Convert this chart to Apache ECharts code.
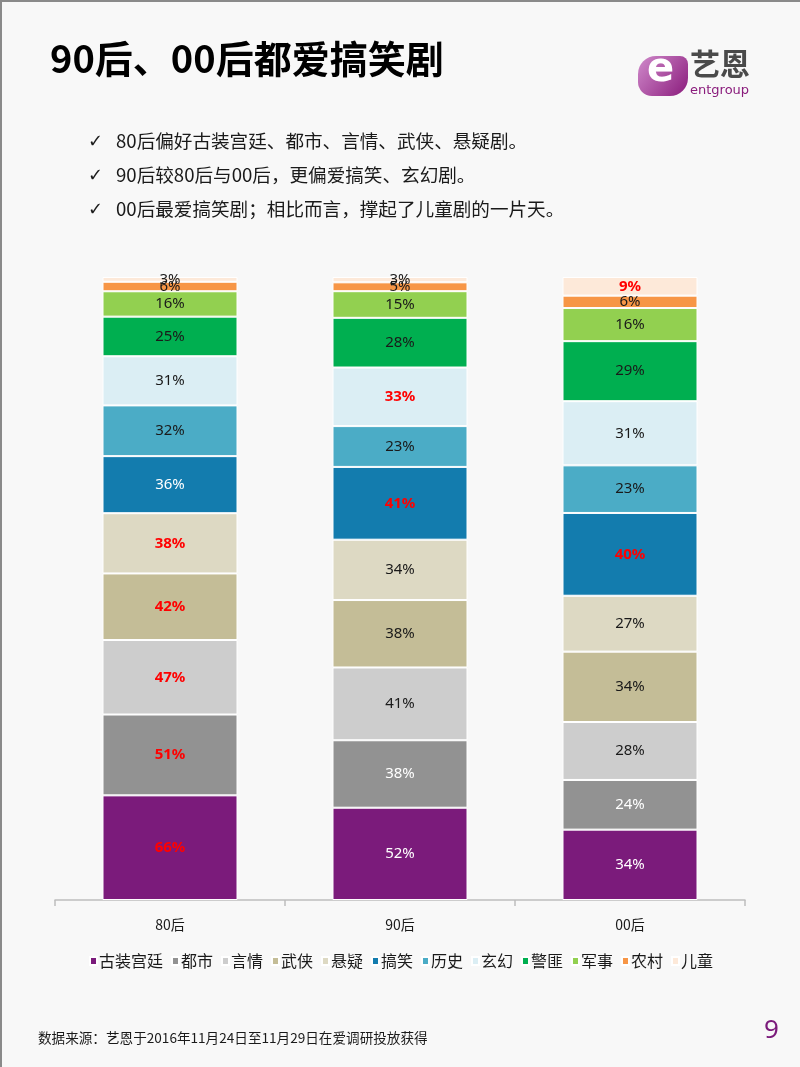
<!DOCTYPE html>
<html><head><meta charset="utf-8">
<script src="https://cdn.jsdelivr.net/npm/echarts@6/dist/echarts.min.js"></script>
<style>
html,body{margin:0;padding:0;}
body{width:800px;height:1067px;background:#f8f8f8;box-sizing:border-box;border-top:2px solid #8a8a8a;border-left:2px solid #8a8a8a;}
#c{width:798px;height:1065px;}
</style></head><body>
<div id="c"></div>
<script>
var categories = ['80后', '90后', '00后'];
var seriesNames = ['古装宫廷','都市','言情','武侠','悬疑','搞笑','历史','玄幻','警匪','军事','农村','儿童'];
var v古装宫廷 = [66, 52, 34];
var v都市 = [51, 38, 24];
var v言情 = [47, 41, 28];
var v武侠 = [42, 38, 34];
var v悬疑 = [38, 34, 27];
var v搞笑 = [36, 41, 40];
var v历史 = [32, 23, 23];
var v玄幻 = [31, 33, 31];
var v警匪 = [25, 28, 29];
var v军事 = [16, 15, 16];
var v农村 = [6, 5, 6];
var v儿童 = [3, 3, 9];
var seriesValues = [v古装宫廷,v都市,v言情,v武侠,v悬疑,v搞笑,v历史,v玄幻,v警匪,v军事,v农村,v儿童];
// highlighted (red) labels: [series index, category index]
var redLabels = [[0,0],[1,0],[2,0],[3,0],[4,0],[7,1],[5,1],[5,2],[11,2]];
var whiteLabelSeries = [0,1,5];

var colors = ['#7B1B7B','#929292','#CDCDCD','#C4BD97','#DDD9C3','#137CAE','#4BACC6','#DBEEF4','#00AF50','#92D050','#F79646','#FDE9D9'];

var sums = categories.map(function(c, j){
  var s = 0; seriesValues.forEach(function(a){ s += a[j]; }); return s;
});
function isRed(i,j){ return redLabels.some(function(p){return p[0]===i && p[1]===j;}); }

var series = seriesNames.map(function(name, i){
  return {
    name: name, type: 'bar', stack: 'all', barWidth: 135,
    itemStyle: {color: colors[i], borderColor: '#ffffff', borderWidth: 1},
    data: seriesValues[i].map(function(v, j){
      var red = isRed(i,j);
      return {
        value: v / sums[j] * 100,
        label: {
          show: true, position: 'inside',
          formatter: v + '%',
          color: red ? '#FF0000' : (whiteLabelSeries.indexOf(i) >= 0 ? '#ffffff' : '#1a1a1a'),
          fontWeight: red ? 'bold' : 'normal',
          fontSize: 15,
          fontFamily: 'Noto Sans, sans-serif'
        }
      };
    })
  };
});

var chart = echarts.init(document.getElementById('c'));
chart.setOption({
  backgroundColor: 'transparent',
  animation: false,
  textStyle: {fontFamily: 'Noto Sans CJK SC, Noto Sans, sans-serif'},
  grid: {left: 53, right: 55, top: 275, bottom: 167},
  xAxis: {
    type: 'category', data: categories,
    axisLine: {lineStyle: {color: '#bdbdbd', width: 1.5}},
    axisTick: {show: true, length: 6, lineStyle: {color: '#bdbdbd', width: 1.5}},
    axisLabel: {color: '#1a1a1a', fontSize: 14, margin: 18, fontFamily: 'Noto Sans CJK SC, sans-serif'}
  },
  yAxis: {type: 'value', min: 0, max: 100, show: false, splitLine: {show: false}},
  legend: {
    data: seriesNames, left: 'center', top: 946,
    itemWidth: 7, itemHeight: 8, itemGap: 8, icon: 'rect',
    textStyle: {fontSize: 16, color: '#1a1a1a', padding: [0,0,0,-3], fontFamily: 'Noto Sans CJK SC, sans-serif'}
  },
  series: series,
  graphic: [
    {type: 'text', left: 48, top: 38, style: {text: '90后、00后都爱搞笑剧', font: 'bold 38px "Noto Sans CJK SC", sans-serif', fill: '#000'}},
    // logo
    {type: 'rect', left: 636, top: 54, shape: {width: 50, height: 40, r: [18, 8, 18, 14]}, style: {fill: new echarts.graphic.LinearGradient(0,0,1,1,[{offset:0,color:'#d08acb'},{offset:1,color:'#8a1c7c'}])}},
    {type: 'text', left: 645, top: 49, style: {text: 'e', font: 'bold 40px "DejaVu Sans", sans-serif', fill: '#ffffff'}},
    {type: 'text', left: 688, top: 47, style: {text: '艺恩', font: 'bold 30px "Noto Sans CJK SC", sans-serif', fill: '#4a4a4a'}},
    {type: 'text', left: 688, top: 82, style: {text: 'entgroup', font: '13px "DejaVu Sans", sans-serif', fill: '#8a1c7c'}},
    // bullets
    {type: 'text', left: 86, top: 131, style: {text: '✓', font: '18px "DejaVu Sans", sans-serif', fill: '#1a1a1a'}},
    {type: 'text', left: 114, top: 130, style: {text: '80后偏好古装宫廷、都市、言情、武侠、悬疑剧。', font: '18.6px "Noto Sans CJK SC", sans-serif', fill: '#1a1a1a'}},
    {type: 'text', left: 86, top: 165, style: {text: '✓', font: '18px "DejaVu Sans", sans-serif', fill: '#1a1a1a'}},
    {type: 'text', left: 114, top: 164, style: {text: '90后较80后与00后，更偏爱搞笑、玄幻剧。', font: '18.6px "Noto Sans CJK SC", sans-serif', fill: '#1a1a1a'}},
    {type: 'text', left: 86, top: 199, style: {text: '✓', font: '18px "DejaVu Sans", sans-serif', fill: '#1a1a1a'}},
    {type: 'text', left: 114, top: 198, style: {text: '00后最爱搞笑剧；相比而言，撑起了儿童剧的一片天。', font: '18.6px "Noto Sans CJK SC", sans-serif', fill: '#1a1a1a'}},
    // footer
    {type: 'text', left: 36, top: 1029, style: {text: '数据来源：艺恩于2016年11月24日至11月29日在爱调研投放获得', font: '13.6px "Noto Sans CJK SC", sans-serif', fill: '#1a1a1a'}},
    {type: 'text', left: 762, top: 1016, style: {text: '9', font: '26px "Noto Sans", sans-serif', fill: '#7B1B7B'}}
  ]
});
</script>
</body></html>
